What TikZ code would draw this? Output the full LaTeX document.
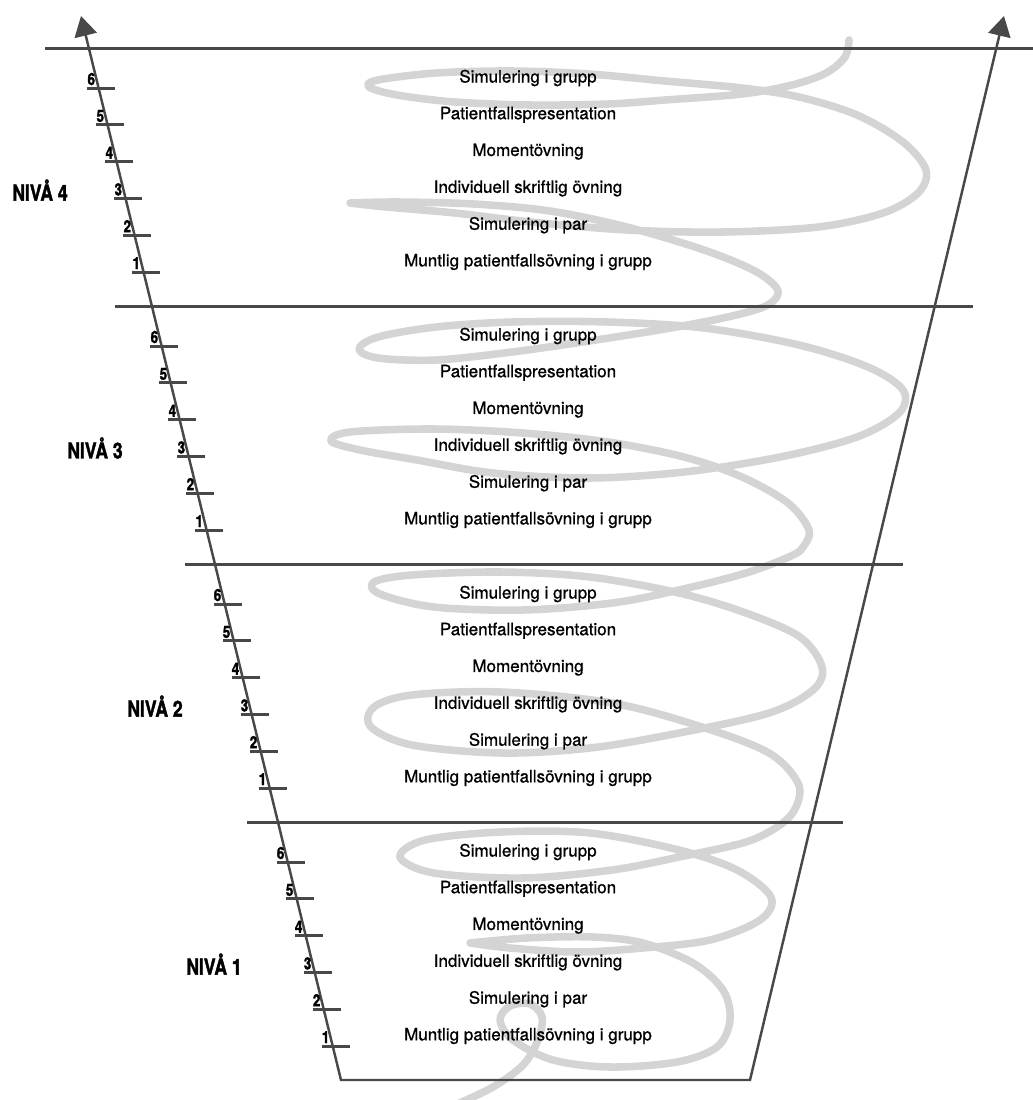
\documentclass[tikz,border=0pt]{standalone}
\usepackage{fontspec}
\setmainfont[FakeBold=1]{TeX Gyre Heros}
\newfontfamily\nivafont[FakeStretch=0.8, FakeBold=1.8]{TeX Gyre Heros}
\usepackage{tikz}
\usetikzlibrary{arrows.meta}
\definecolor{axisgray}{RGB}{72,72,72}
\definecolor{coilgray}{RGB}{212,212,212}

\tikzset{
  axisline/.style={draw=axisgray, line width=1.4pt},
  sepline/.style={draw=axisgray, line width=1.7pt},
  tickline/.style={draw=axisgray, line width=1.7pt},
  coil/.style={draw=coilgray, line width=4.3pt, line cap=round, line join=round},
  item/.style={font=\fontsize{9.7}{11}\selectfont, inner sep=0pt},
  tickno/.style={font=\nivafont\bfseries\fontsize{9.5}{10}\selectfont, inner sep=0pt, anchor=base east},
  niva/.style={font=\nivafont\bfseries\fontsize{12.5}{14}\selectfont, inner sep=0pt},
}

\begin{document}
\begin{tikzpicture}[x=0.02cm, y=-0.02cm]
        \useasboundingbox (0,0) rectangle (1033,1100);

        \draw[coil] plot[smooth, tension=0.55] coordinates {
          (849,40) (845,57) (826,73) (792,85) (742,94) (665,100) (608,104)
          (531,105) (455,102) (397,95) (369,87) (378,80) (436,73) (512,71)
          (589,74) (665,81) (742,88) (799,97) (857,115) (903,142) (926,170)
          (918,193) (883,213) (818,227) (723,232) (627,230) (531,222)
          (455,213) (386,207) (350,203)}
          plot[smooth, tension=0.55] coordinates {
          (350,203) (397,202) (474,204) (550,211) (627,227) (704,250)
          (753,270) (776,287) (776,298) (761,308) (723,318) (665,329)
          (589,341) (512,352) (436,360) (378,358) (359,349) (378,337)
          (436,327) (512,322) (608,322) (704,328) (799,345) (868,367)
          (903,390) (899,413) (857,437) (780,457) (684,472) (589,478)
          (493,473) (417,460) (360,450) (331,441) (350,432) (434,429)
          (523,433) (608,442) (684,457) (742,477) (788,503) (809,530)
          (803,547) (791,556) (746,573) (679,590) (612,603) (523,610)
          (434,607) (380,594) (374,582) (412,575) (501,572) (590,577)
          (679,593) (746,613) (800,637) (822,667) (813,690) (769,713)
          (679,733) (590,748) (501,753) (412,745) (371,727) (374,707)
          (412,695) (501,692) (612,703) (702,727) (769,753) (798,783)
          (796,807) (780,825) (746,842) (679,857) (612,870) (523,878)
          (434,873) (400,857) (425,840) (501,832) (590,833) (679,850)
          (737,870) (771,897) (760,920) (710,940) (643,948) (577,952)
          (510,948) (470,943)}
          plot[smooth, tension=0.55] coordinates {
          (470,943) (527,938) (593,937) (643,943) (693,963) (723,990)
          (730,1020) (717,1047) (677,1062) (610,1067) (553,1060) (513,1040)
          (500,1020) (510,1006) (530,1004) (542,1017) (538,1040) (523,1065)
          (493,1087) (455,1105)};

        \coordinate (tipL) at (81,16);
        \coordinate (baseL) at (341,1080);
        \coordinate (baseR) at (750,1080);
        \coordinate (tipR) at (1004,16);
        \draw[axisline, {Triangle[length=0.4cm, width=0.45cm]}-{Triangle[length=0.4cm, width=0.45cm]}]
          (tipL) -- (baseL) -- (baseR) -- (tipR);

        \foreach \lv/\xa/\xb in {4/45/1033, 3/115/973, 2/185/903, 1/247/843} {
          \pgfmathsetmacro\ys{1080-258*\lv}
          \coordinate (sepL\lv) at (\xa,\ys);
          \coordinate (sepR\lv) at (\xb,\ys);
          \draw[sepline] (sepL\lv) -- (sepR\lv);
        }

        \foreach \lv/\nx in {4/40, 3/95, 2/155, 1/214} {
          \pgfmathsetmacro\ys{1080-258*\lv}
          \foreach \i/\txt in {1/Muntlig patientfallsövning i grupp, 2/Simulering i par,
              3/Individuell skriftlig övning, 4/Momentövning,
              5/Patientfallspresentation, 6/Simulering i grupp} {
            \pgfmathsetmacro\ty{\ys+30+(6-\i)*36.8}
            \pgfmathsetmacro\kx{341-(1080-\ty-10)*0.2446}
            \node[item] (act\lv-\i) at (528,\ty) {\txt};
            \coordinate (tick\lv-\i) at (\kx,\ty+10);
            \draw[tickline] (tick\lv-\i) ++(-11,0) -- ++(28,0);
            \node[tickno] (no\lv-\i) at ([shift={(-3,-3)}]tick\lv-\i) {\i};
          }
          \node[niva] (niva\lv) at (\nx,\ys+142) {NIVÅ \lv};
        }

      \end{tikzpicture}
\end{document}
